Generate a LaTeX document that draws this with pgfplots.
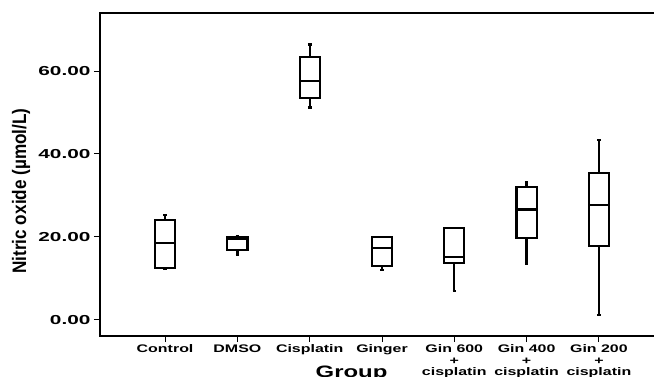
\documentclass[border=0pt]{standalone}
\usepackage{pgfplots}
\pgfplotsset{compat=1.18}
\usepgfplotslibrary{statistics}
\usepackage{fontspec}
\setmainfont{Liberation Sans}
\newfontfamily\widefont[FakeStretch=1.45]{Liberation Sans}
\newfontfamily\widerfont[FakeStretch=1.6]{Liberation Sans}
\newfontfamily\narrowfont[FakeStretch=0.88]{Liberation Sans}
\pgfplotsset{bx/.style={black, line width=2.1bp, boxplot/draw direction=y, boxplot/box extend=0.28, boxplot/whisker extend=0.05,
  boxplot/every box/.style={line width=2.1bp},
  boxplot/every median/.style={line width=2.1bp},
  boxplot/every whisker/.style={line width=2.3bp}}}
\begin{document}
\begin{tikzpicture}
\begin{axis}[
 at={(100bp,41bp)}, anchor=south west,
 scale only axis, width=564bp, height=323bp,
 xmin=0.1, xmax=7.9, ymin=-3.9, ymax=74,
 axis line style={line width=1.8bp},
 tick align=outside, tick pos=left,
 major tick length=6bp,
 every tick/.style={black, line width=1bp},
 xtick={1,2,3,4,5,6,7},
 xticklabels={Control, DMSO, Cisplatin, Ginger, {Gin 600\\+\\cisplatin}, {Gin 400\\+\\cisplatin}, {Gin 200\\+\\cisplatin}},
 xticklabel style={align=center, font=\widefont\bfseries\fontsize{11bp}{11.4bp}\selectfont, anchor=north, yshift=0.5bp},
 ytick={0,20,40,60},
 /pgf/number format/assume math mode=true,
 yticklabel style={font=\widerfont\bfseries\fontsize{13bp}{13bp}\selectfont,
   /pgf/number format/fixed, /pgf/number format/fixed zerofill, /pgf/number format/precision=2},
 ylabel={Nitric oxide (µmol/L)},
 ylabel style={font=\narrowfont\bfseries\fontsize{19.5bp}{20bp}\selectfont, at={(axis description cs:-0.140,0.449)}, anchor=center},
 xlabel={Group},
 xlabel style={font=\widefont\bfseries\fontsize{16.5bp}{17bp}\selectfont, at={(axis description cs:0.446,-0.117)}, anchor=center},
]
\addplot[bx, boxplot prepared={draw position=1, lower whisker=12.3, lower quartile=12.6, median=18.6, upper quartile=24.1, upper whisker=25.3}] coordinates {};
\addplot[bx, boxplot prepared={draw position=2, lower whisker=15.7, lower quartile=16.8, median=19.4, upper quartile=20.0, upper whisker=20.2}] coordinates {};
\addplot[bx, boxplot prepared={draw position=3, lower whisker=51.2, lower quartile=53.6, median=57.6, upper quartile=63.3, upper whisker=66.4}] coordinates {};
\addplot[bx, boxplot prepared={draw position=4, lower whisker=12.0, lower quartile=12.9, median=17.3, upper quartile=19.9, upper whisker=20.0}] coordinates {};
\addplot[bx, boxplot prepared={draw position=5, lower whisker=7.0, lower quartile=13.6, median=15.2, upper quartile=22.2, upper whisker=22.2}] coordinates {};
\addplot[bx, boxplot prepared={draw position=6, lower whisker=13.6, lower quartile=19.8, median=26.6, upper quartile=32.0, upper whisker=33.1}] coordinates {};
\addplot[bx, boxplot prepared={draw position=7, lower whisker=1.1, lower quartile=17.7, median=27.7, upper quartile=35.5, upper whisker=43.4}] coordinates {};
\end{axis}
\pgfresetboundingbox
\useasboundingbox (0,0) rectangle (654bp,377bp);
\end{tikzpicture}
\end{document}
